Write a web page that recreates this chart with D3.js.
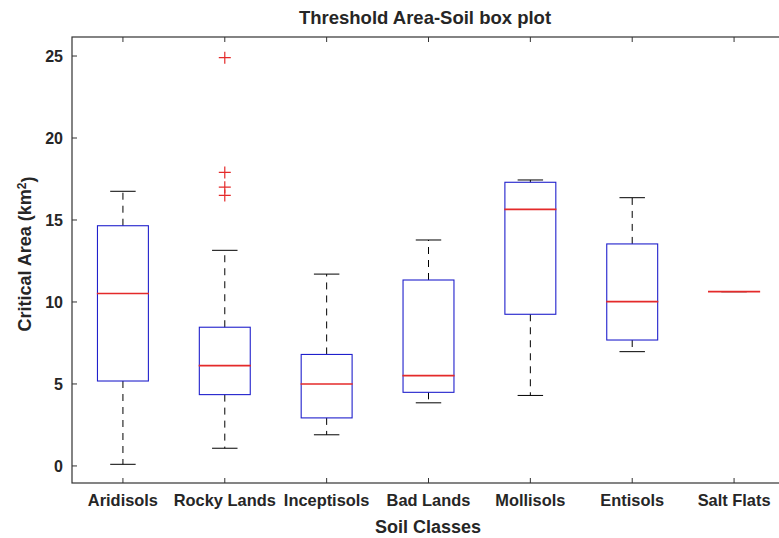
<!DOCTYPE html>
<html>
<head>
<meta charset="utf-8">
<script src="https://cdn.jsdelivr.net/npm/d3@7"></script>
<style>
  html, body { margin: 0; padding: 0; background: #fff; }
  svg { display: block; }
  text { font-family: "Liberation Sans", Arial, Helvetica, sans-serif; font-weight: bold; fill: #262626; }
</style>
</head>
<body>
<svg id="chart" width="779" height="538"></svg>
<script>
// ---- data ----
const categories   = ["Aridisols", "Rocky Lands", "Inceptisols", "Bad Lands", "Mollisols", "Entisols", "Salt Flats"];
const lowerWhisker = [0.1, 1.08, 1.9, 3.85, 4.3, 6.97, 10.63];
const q1           = [5.18, 4.35, 2.93, 4.49, 9.25, 7.68, 10.63];
const medians      = [10.52, 6.12, 5.0, 5.51, 15.65, 10.02, 10.63];
const q3           = [14.65, 8.46, 6.8, 11.34, 17.3, 13.54, 10.63];
const upperWhisker = [16.75, 13.15, 11.7, 13.78, 17.44, 16.36, 10.63];
const outliers     = [[], [24.9, 17.9, 17.0, 16.5], [], [], [], [], []];
const yTicks       = [0, 5, 10, 15, 20, 25];

const title  = "Threshold Area-Soil box plot";
const xTitle = "Soil Classes";

// ---- layout ----
const svg = d3.select("#chart");
const L = 72, R = 785, T = 37, B = 483;
const axisColor = "#333333";

const x = d3.scalePoint().domain(categories).range([L, R]).padding(0.5);
const y = d3.scaleLinear().domain([-1.04, 26.16]).range([B, T]);
const step = x.step();
const boxW = step * 0.5;
const capW = step * 0.25;

const rows = categories.map((c, i) => ({
  c, lo: lowerWhisker[i], q1: q1[i], med: medians[i], q3: q3[i], hi: upperWhisker[i], out: outliers[i]
}));

const g = svg.append("g");

// whiskers (dashed) and caps
rows.forEach(d => {
  const cx = x(d.c);
  if (d.hi > d.q3) {
    g.append("line").attr("x1", cx).attr("x2", cx).attr("y1", y(d.q3)).attr("y2", y(d.hi))
      .attr("stroke", "#000").attr("stroke-width", 1).attr("stroke-dasharray", "7,6");
  }
  if (d.lo < d.q1) {
    g.append("line").attr("x1", cx).attr("x2", cx).attr("y1", y(d.q1)).attr("y2", y(d.lo))
      .attr("stroke", "#000").attr("stroke-width", 1).attr("stroke-dasharray", "7,6");
  }
  [d.hi, d.lo].forEach(v => {
    g.append("line").attr("x1", cx - capW / 2).attr("x2", cx + capW / 2)
      .attr("y1", y(v)).attr("y2", y(v)).attr("stroke", "#000").attr("stroke-width", 1);
  });
});

// boxes
g.selectAll("rect.box").data(rows).join("rect").attr("class", "box")
  .attr("x", d => x(d.c) - boxW / 2).attr("width", boxW)
  .attr("y", d => y(d.q3)).attr("height", d => Math.max(0, y(d.q1) - y(d.q3)))
  .attr("fill", "none").attr("stroke", "#2020cc").attr("stroke-width", 1.1);

// medians
g.selectAll("line.med").data(rows).join("line").attr("class", "med")
  .attr("x1", d => x(d.c) - boxW / 2 - 0.6).attr("x2", d => x(d.c) + boxW / 2 + 0.6)
  .attr("y1", d => y(d.med)).attr("y2", d => y(d.med))
  .attr("stroke", "#e42a2a").attr("stroke-width", 1.6);

// outliers (+)
rows.forEach(d => {
  d.out.forEach(v => {
    const cx = x(d.c), cy = y(v), s = 6;
    g.append("path").attr("d", `M${cx - s},${cy}H${cx + s}M${cx},${cy - s}V${cy + s}`)
      .attr("stroke", "#e42a2a").attr("stroke-width", 1.2).attr("fill", "none");
  });
});

// axes frame
const ax = svg.append("g");
ax.append("rect").attr("x", L).attr("y", T).attr("width", R - L).attr("height", B - T)
  .attr("fill", "none").attr("stroke", axisColor).attr("stroke-width", 1.2);

const tick = 5;
// y ticks (left & right, inward)
yTicks.forEach(v => {
  ax.append("line").attr("x1", L).attr("x2", L + tick).attr("y1", y(v)).attr("y2", y(v)).attr("stroke", axisColor);
  ax.append("line").attr("x1", R).attr("x2", R - tick).attr("y1", y(v)).attr("y2", y(v)).attr("stroke", axisColor);
  ax.append("text").attr("x", L - 9).attr("y", y(v)).attr("dy", "0.36em")
    .attr("text-anchor", "end").style("font-size", "16px").text(v);
});
// x ticks (bottom & top, inward)
categories.forEach(c => {
  ax.append("line").attr("x1", x(c)).attr("x2", x(c)).attr("y1", B).attr("y2", B - tick).attr("stroke", axisColor);
  ax.append("line").attr("x1", x(c)).attr("x2", x(c)).attr("y1", T).attr("y2", T + tick).attr("stroke", axisColor);
  ax.append("text").attr("x", x(c)).attr("y", 506).attr("text-anchor", "middle")
    .style("font-size", "16.4px").text(c);
});

// titles
svg.append("text").attr("x", 425).attr("y", 24).attr("text-anchor", "middle")
  .style("font-size", "18.5px").text(title);
svg.append("text").attr("x", 428).attr("y", 533).attr("text-anchor", "middle")
  .style("font-size", "18px").text(xTitle);
const yl = svg.append("text").attr("transform", "translate(31,254) rotate(-90)")
  .attr("text-anchor", "middle").style("font-size", "18px");
yl.append("tspan").text("Critical Area (km");
yl.append("tspan").attr("dy", "-0.45em").style("font-size", "12px").text("2");
yl.append("tspan").attr("dy", "0.45em").text(")");
</script>
</body>
</html>
